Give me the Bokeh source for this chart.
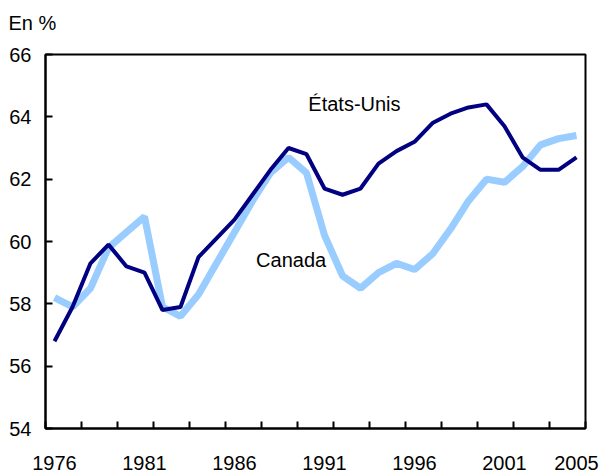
from bokeh.plotting import figure
from bokeh.models import Range1d, FixedTicker, Label, Title
from bokeh.embed import file_html
from bokeh.resources import INLINE

years = list(range(1976, 2006))
canada = [58.2, 57.9, 58.5, 59.8, 60.3, 60.8, 57.9, 57.6, 58.3, 59.3,
          60.3, 61.3, 62.2, 62.7, 62.2, 60.2, 58.9, 58.5, 59.0, 59.3,
          59.1, 59.6, 60.4, 61.3, 62.0, 61.9, 62.4, 63.1, 63.3, 63.4]
usa = [56.8, 57.9, 59.3, 59.9, 59.2, 59.0, 57.8, 57.9, 59.5, 60.1,
       60.7, 61.5, 62.3, 63.0, 62.8, 61.7, 61.5, 61.7, 62.5, 62.9,
       63.2, 63.8, 64.1, 64.3, 64.4, 63.7, 62.7, 62.3, 62.3, 62.7]
tick_labels = ["1976", "1981", "1986", "1991", "1996", "2001", "2005"]
y_ticks = [54, 56, 58, 60, 62, 64, 66]

FONT = "Liberation Sans"
FS = "20px"
xs = [i + 0.5 for i in range(len(years))]

p = figure(width=600, height=472, output_backend="svg", toolbar_location=None,
           x_range=Range1d(0, len(years)), y_range=Range1d(54, 66),
           min_border_left=45, min_border_right=15, min_border_top=54, min_border_bottom=44)
p.grid.visible = False
p.outline_line_color = "black"
p.outline_line_width = 2
p.background_fill_color = "white"
p.border_fill_color = "white"

p.line(xs, canada, line_color="#99CCFF", line_width=7)
p.line(xs, usa, line_color="#000080", line_width=4)

# x axis: labels at category centres, tick marks (minor) every two years
label_pos = [years.index(int(t)) + 0.5 for t in tick_labels]
p.xaxis.ticker = FixedTicker(ticks=label_pos, minor_ticks=list(range(0, len(years) + 1, 2)))
p.xaxis.major_label_overrides = {pos: t for pos, t in zip(label_pos, tick_labels)}
p.xaxis.major_tick_line_color = None
p.xaxis.minor_tick_in = 7
p.xaxis.minor_tick_out = 0
p.xaxis.minor_tick_line_width = 2
p.xaxis.minor_tick_line_color = "black"
p.xaxis.axis_line_width = 2
p.xaxis.major_label_text_font = FONT
p.xaxis.major_label_text_font_size = FS
p.xaxis.major_label_text_color = "black"
p.xaxis.major_label_standoff = 21

p.yaxis.ticker = FixedTicker(ticks=y_ticks)
p.yaxis.major_tick_in = 7
p.yaxis.major_tick_out = 0
p.yaxis.minor_tick_line_color = None
p.yaxis.axis_line_width = 2
p.yaxis.major_tick_line_width = 2
p.yaxis.major_label_text_font = FONT
p.yaxis.major_label_text_font_size = FS
p.yaxis.major_label_text_color = "black"
p.yaxis.major_label_standoff = 14

p.add_layout(Label(x=14.6, y=64.4, text="États-Unis", text_font=FONT,
                   text_font_size=FS, text_baseline="middle", text_color="black"))
p.add_layout(Label(x=11.7, y=59.42, text="Canada", text_font=FONT,
                   text_font_size=FS, text_baseline="middle", text_color="black"))

p.title.text = "En %"
p.title.text_font = FONT
p.title.text_font_size = FS
p.title.text_font_style = "normal"
p.title.text_color = "black"
p.title.align = "left"
p.title.offset = -37
p.title.standoff = 16
# spacer between the unit title and the frame
p.add_layout(Title(text=" ", text_font_size="1px", standoff=10), "above")

open("out.html", "w").write(file_html(p, INLINE))
